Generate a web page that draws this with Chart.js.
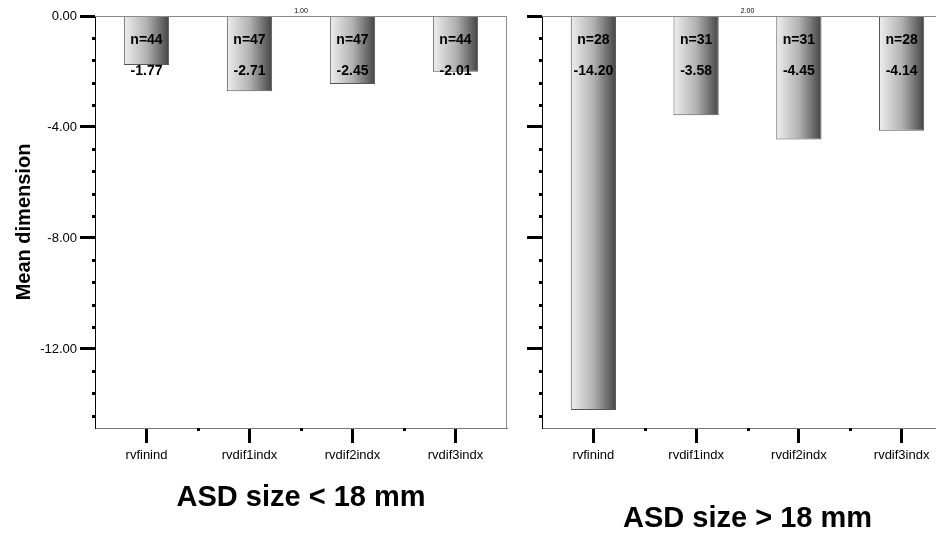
<!DOCTYPE html>
<html>
<head>
<meta charset="utf-8">
<script src="https://cdn.jsdelivr.net/npm/chart.js@4"></script>
<style>
  html, body { margin: 0; padding: 0; background: #fff; width: 936px; height: 533px; overflow: hidden; }
  #wrap { position: relative; width: 936px; height: 533px; }
  canvas { position: absolute; top: 0; }
  #left { left: 0; }
  #right { left: 520px; }
</style>
</head>
<body>
<div id="wrap">
  <canvas id="left" width="520" height="533"></canvas>
  <canvas id="right" width="440" height="533"></canvas>
</div>
<script>
// Data
const categories = ['rvfinind', 'rvdif1indx', 'rvdif2indx', 'rvdif3indx'];
const smallMeans = [-1.77, -2.71, -2.45, -2.01];
const smallCounts = [44, 47, 47, 44];
const largeMeans = [-14.20, -3.58, -4.45, -4.14];
const largeCounts = [28, 31, 31, 28];
const panelLabels = ['1.00', '2.00'];
const groupTitles = ['ASD size < 18 mm', 'ASD size > 18 mm'];

const FONT = "'Liberation Sans', Arial, sans-serif";
const BAR_PCT = 0.44;
const MINOR_STEP = 0.8;

function isMajor(v) {
    return Math.abs(v % 4) < 1e-6;
}

// Horizontal grey gradient per bar (light on the left, dark on the right)
function barFill(ctx) {
    const chart = ctx.chart;
    const x = chart.scales.x;
    if (!x || ctx.dataIndex === undefined) return '#aaa';
    const cx = x.getPixelForValue(ctx.dataIndex);
    const half = x.width / categories.length * BAR_PCT / 2;
    if (!isFinite(cx) || !isFinite(half) || half <= 0) return '#aaa';
    const g = chart.ctx.createLinearGradient(cx - half, 0, cx + half, 0);
    g.addColorStop(0, '#eeeeee');
    g.addColorStop(0.5, '#b2b2b2');
    g.addColorStop(1, '#444444');
    return g;
}

// Frame, minor tick dots and the small panel label
const framePlugin = {
    id: 'frame',
    afterDraw(chart, args, opts) {
        const { ctx, chartArea: a } = chart;
        const y = chart.scales.y;
        const x = chart.scales.x;
        ctx.save();
        ctx.strokeStyle = '#8a8a8a';
        ctx.lineWidth = 1;
        ctx.beginPath();
        ctx.moveTo(a.left, a.top + 0.5);
        ctx.lineTo(a.right, a.top + 0.5);
        ctx.moveTo(a.right - 0.5, a.top);
        ctx.lineTo(a.right - 0.5, a.bottom);
        ctx.stroke();

        ctx.fillStyle = '#000';
        for (let k = 1; -k * MINOR_STEP >= y.min; k++) {
            if (k % 5 === 0) continue;
            const py = y.getPixelForValue(-k * MINOR_STEP);
            ctx.fillRect(a.left - 3, Math.round(py) - 1, 3, 3);
        }
        for (let i = 0; i < categories.length - 1; i++) {
            const px = (x.getPixelForValue(i) + x.getPixelForValue(i + 1)) / 2;
            ctx.fillRect(Math.round(px) - 1, a.bottom, 3, 3);
        }

        ctx.font = '7px ' + FONT;
        ctx.textAlign = 'center';
        ctx.textBaseline = 'bottom';
        ctx.fillText(opts.label, (a.left + a.right) / 2, a.top - 1);
        ctx.restore();
    }
};

// n= and mean printed inside each bar
const barLabelPlugin = {
    id: 'barLabels',
    afterDatasetsDraw(chart, args, opts) {
        const { ctx } = chart;
        const top = chart.scales.y.getPixelForValue(0);
        const meta = chart.getDatasetMeta(0);
        ctx.save();
        ctx.font = 'bold 14px ' + FONT;
        ctx.textAlign = 'center';
        ctx.textBaseline = 'middle';
        ctx.fillStyle = '#000';
        meta.data.forEach((bar, i) => {
            ctx.fillText('n=' + opts.counts[i], bar.x, top + 24);
            ctx.fillText(opts.values[i].toFixed(2), bar.x, top + 55);
        });
        ctx.restore();
    }
};

function makePanel(canvasId, values, counts, label, title, showY, yWidth, padRight, titlePad) {
    return new Chart(document.getElementById(canvasId), {
        type: 'bar',
        data: {
            labels: categories,
            datasets: [{
                data: values,
                backgroundColor: barFill,
                borderColor: '#555',
                borderWidth: 1,
                barPercentage: BAR_PCT,
                categoryPercentage: 1
            }]
        },
        options: {
            responsive: false,
            animation: false,
            devicePixelRatio: 1,
            layout: { padding: { left: 0, top: 16, right: padRight, bottom: 0 } },
            plugins: {
                legend: { display: false },
                tooltip: { enabled: false },
                frame: { label: label },
                barLabels: { counts: counts, values: values }
            },
            scales: {
                x: {
                    afterFit(scale) { scale.height = 105; },
                    grid: {
                        offset: false,
                        drawOnChartArea: false,
                        drawTicks: true,
                        tickLength: 15,
                        tickWidth: 3,
                        tickColor: '#000',
                        color: 'transparent'
                    },
                    border: { color: '#777', width: 1 },
                    ticks: {
                        color: '#000',
                        font: { family: FONT, size: 13 },
                        padding: 5,
                        maxRotation: 0
                    },
                    title: {
                        display: true,
                        text: title,
                        color: '#000',
                        font: { family: FONT, size: 29, weight: 'bold', lineHeight: 1 },
                        padding: { top: 0, bottom: titlePad }
                    }
                },
                y: {
                    min: -14.85,
                    max: 0,
                    afterFit(scale) { scale.width = yWidth; },
                    grid: {
                        drawOnChartArea: false,
                        drawTicks: true,
                        tickLength: 15,
                        tickWidth: c => (c.tick && isMajor(c.tick.value)) ? 3 : 0,
                        tickColor: '#000',
                        color: 'transparent'
                    },
                    border: { color: '#000', width: 1 },
                    ticks: {
                        display: showY,
                        stepSize: 4,
                        autoSkip: false,
                        color: '#000',
                        padding: 3,
                        font: { family: FONT, size: 13 },
                        callback: v => isMajor(v) ? v.toFixed(2) : ''
                    },
                    title: {
                        display: showY,
                        text: 'Mean dimension',
                        color: '#000',
                        font: { family: FONT, size: 20, weight: 'bold' },
                        padding: { top: 12, bottom: 0 }
                    }
                }
            }
        },
        plugins: [framePlugin, barLabelPlugin]
    });
}

makePanel('left', smallMeans, smallCounts, panelLabels[0], groupTitles[0], true, 95, 13, 21);
makePanel('right', largeMeans, largeCounts, panelLabels[1], groupTitles[1], false, 22, 7, 0);
</script>
</body>
</html>
